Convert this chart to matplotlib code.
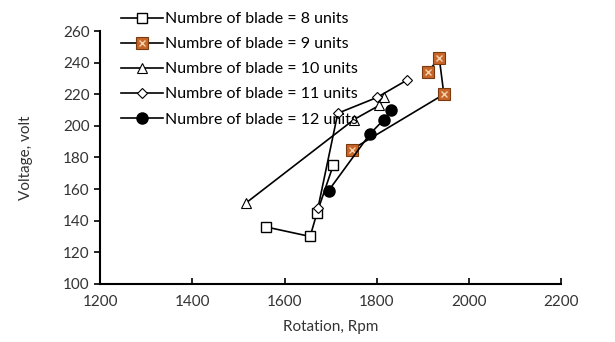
import matplotlib.pyplot as plt
from matplotlib.legend_handler import HandlerTuple

plt.rcParams['font.family'] = ['Lato', 'DejaVu Sans']

# blade = 8
rpm8 = [1560, 1655, 1670, 1705]
volt8 = [136, 130, 145, 175]
# blade = 9
rpm9 = [1745, 1945, 1935, 1910]
volt9 = [185, 220, 243, 234]
# blade = 10
rpm10 = [1515, 1750, 1805, 1815]
volt10 = [151, 204, 213, 218]
# blade = 11
rpm11 = [1672, 1715, 1800, 1865]
volt11 = [148, 208, 218, 229]
# blade = 12
rpm12 = [1695, 1785, 1815, 1830]
volt12 = [159, 195, 204, 210]

labels = ["Numbre of blade = 8 units", "Numbre of blade = 9 units",
          "Numbre of blade = 10 units", "Numbre of blade = 11 units",
          "Numbre of blade = 12 units"]

fig = plt.figure(figsize=(6.15, 3.42), dpi=100)
ax = fig.add_axes([0.163, 0.17, 0.75, 0.739])

lw = 1.2
h8, = ax.plot(rpm8, volt8, color='black', lw=lw, marker='s', ms=7,
              mfc='white', mec='black', mew=1)
h9, = ax.plot(rpm9, volt9, color='black', lw=lw, marker='s', ms=8,
              mfc='#c8662a', mec='#7a3a10', mew=0.8)
h9x, = ax.plot(rpm9, volt9, ls='none', marker='x', ms=4, mec='#f3d2b0', mew=1)
h10, = ax.plot(rpm10, volt10, color='black', lw=lw, marker='^', ms=7,
               mfc='white', mec='black', mew=0.8)
h11, = ax.plot(rpm11, volt11, color='black', lw=lw, marker='D', ms=5,
               mfc='white', mec='black', mew=0.8)
h12, = ax.plot(rpm12, volt12, color='black', lw=lw, marker='o', ms=8,
               mfc='black', mec='black')

ax.set_xlim(1200, 2200)
ax.set_ylim(100, 260)
ax.set_xticks(range(1200, 2201, 200))
ax.set_yticks(range(100, 261, 20))
for s in ['top', 'right']:
    ax.spines[s].set_visible(False)
for s in ['left', 'bottom']:
    ax.spines[s].set_linewidth(1.5)
ax.tick_params(axis='y', direction='out', length=4, width=1.2, labelsize=11)
ax.tick_params(axis='x', direction='in', length=4, width=1.2, labelsize=11, pad=8)
ax.tick_params(colors='black', labelcolor='#333333')

ax.set_xlabel("Rotation, Rpm", fontsize=11, color='#333333', labelpad=8)
ax.set_ylabel("Voltage, volt", fontsize=11, color='#333333', labelpad=22)

ax.legend([h8, (h9, h9x), h10, h11, h12], labels,
          handler_map={tuple: HandlerTuple(ndivide=1, pad=0)},
          loc='upper left', bbox_to_anchor=(0.045, 1.075), frameon=False,
          fontsize=11.5, handlelength=2.6, handletextpad=0.15,
          labelspacing=0.68, borderaxespad=0, borderpad=0)

fig.savefig("out.png", dpi=100)
